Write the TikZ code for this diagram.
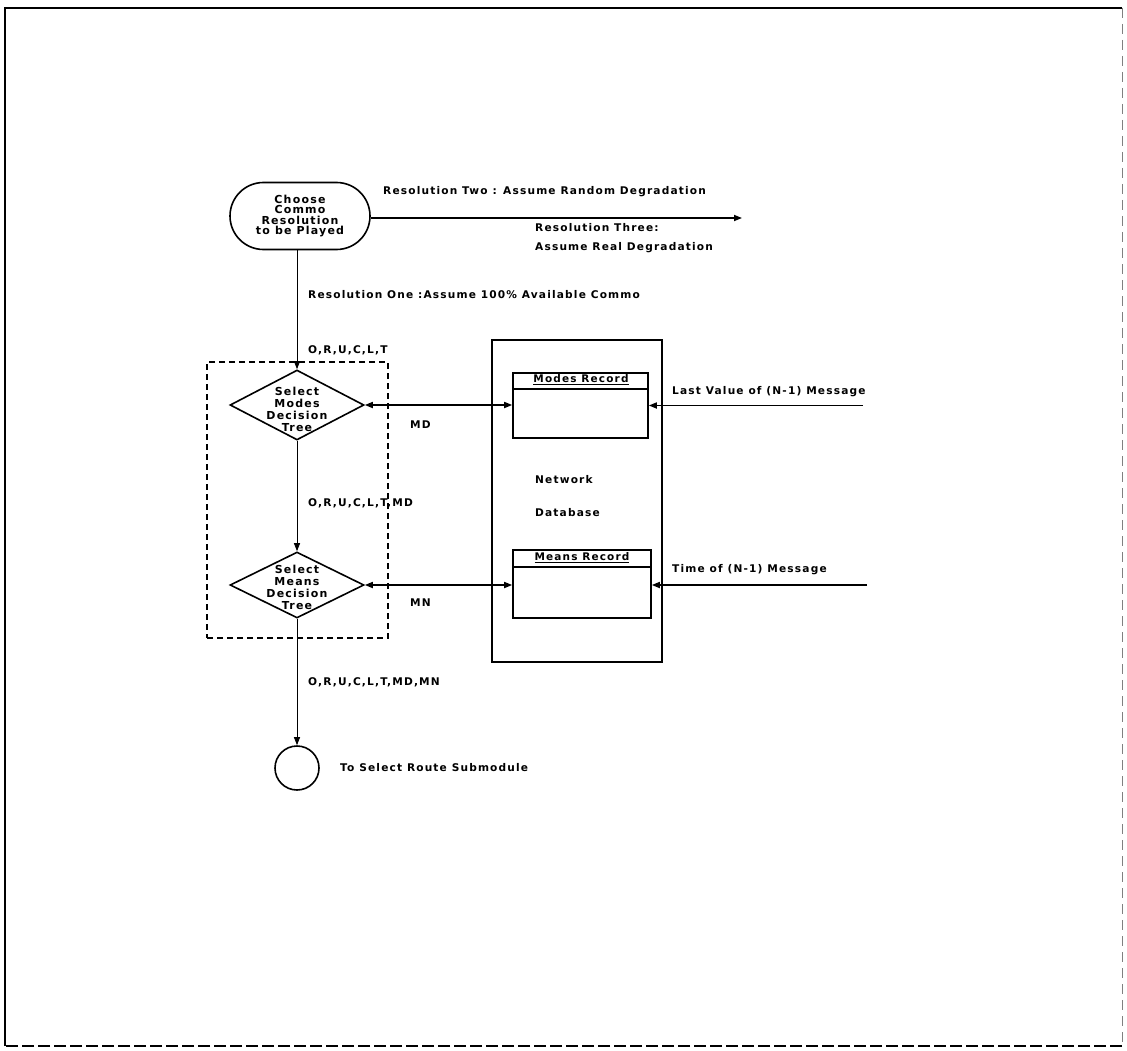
\documentclass[tikz,border=0pt]{standalone}
\usepackage{fontspec}
\setmainfont{DejaVu Sans}
\newfontfamily\lblfont[LetterSpace=11]{DejaVu Sans}
\usetikzlibrary{shapes.geometric,shapes.misc,arrows.meta}
\begin{document}
\begin{tikzpicture}[x=1pt,y=-1pt,
  lbl/.style={font=\lblfont\bfseries\fontsize{10.6}{12}\selectfont, inner sep=0pt, anchor=west},
  ctxt/.style={font=\lblfont\bfseries\fontsize{11}{12}\selectfont, inner sep=0pt, align=center},
  heavy/.style={line width=1.6pt},
  thinline/.style={line width=0.9pt},
  tip/.style={-{Triangle[length=8pt,width=6pt]}},
  dtip/.style={{Triangle[length=8pt,width=6pt]}-{Triangle[length=8pt,width=6pt]}},
  stadium/.style={draw, heavy, rounded rectangle, minimum width=140pt, minimum height=67pt, inner sep=0pt, font=\lblfont\bfseries\fontsize{11}{10.3}\selectfont, align=center},
  decision/.style={draw, heavy, diamond, minimum width=134pt, minimum height=70pt, inner sep=0pt},
  box/.style={draw, heavy, rectangle, inner sep=0pt},
  grpbox/.style={draw, line width=1.3pt, dash pattern=on 6pt off 4pt, rectangle, inner sep=0pt},
]
\useasboundingbox (0,0) rectangle (1127,1051);
% outer frame
\draw[heavy] (5,1046) -- (5,8) -- (1122,8);
\draw[line width=0.8pt, gray, dash pattern=on 10pt off 6pt] (1122,8) -- (1122,1046);
\draw[line width=1.3pt, dash pattern=on 12pt off 4pt] (1122,1046) -- (5,1046);

% start terminator
\node[stadium] (start) at (300,216) {Choose\\Commo\\Resolution\\to be Played};
\coordinate (r2end) at (742,218);
\draw[heavy,tip] (start.east |- r2end) -- (r2end);
\node[lbl] (r2lbl) at (383,192) {Resolution Two : Assume Random Degradation};
\node[lbl] (r3lbl) at (535,228) {Resolution Three:};
\node[lbl] (r3lbl2) at (535,248) {Assume Real Degradation};

% group box
\node[grpbox, minimum width=181pt, minimum height=276pt] (grp) at (297.5,500) {};

% decisions
\node[decision] (d1) at (297,405) {};
\node[ctxt] (d1t) at (297,409) {Select\\Modes\\Decision\\Tree};
\node[decision, minimum height=66pt] (d2) at (297,585) {};
\node[ctxt] (d2t) at (297,587) {Select\\Means\\Decision\\Tree};

\draw[thinline,tip] (start.south -| d1.north) -- (d1.north);
\node[lbl] (r1lbl) at (308,295) {Resolution One :Assume 100\% Available Commo};
\node[lbl] (in1) at (308,350) {O,R,U,C,L,T};

\draw[thinline,tip] (d1.south) -- (d2.north);
\node[lbl] (in2) at (308,503) {O,R,U,C,L,T,MD};

% end connector
\node[draw, heavy, circle, minimum size=44pt, inner sep=0pt] (end) at (297,768) {};
\draw[thinline,tip] (d2.south) -- (end.north);
\node[lbl] (in3) at (308,682) {O,R,U,C,L,T,MD,MN};
\node[lbl] (endlbl) at (340,768) {To Select Route Submodule};

% network database
\node[box, minimum width=170pt, minimum height=322pt] (db) at (577,501) {};
\node[lbl] (dbl1) at (535,480) {Network};
\node[lbl] (dbl2) at (535,513) {Database};

\node[box, minimum width=135pt, minimum height=65pt] (modes) at (580.5,405.5) {};
\draw[heavy] (modes.west |- 0,389) -- (modes.east |- 0,389);
\node[ctxt, font=\lblfont\bfseries\fontsize{10.5}{10}\selectfont] (modest) at (581,380) {\underline{Modes Record}};

\node[box, minimum width=138pt, minimum height=68pt] (means) at (582,584) {};
\draw[heavy] (means.west |- 0,567) -- (means.east |- 0,567);
\node[ctxt, font=\lblfont\bfseries\fontsize{10.5}{10}\selectfont] (meanst) at (582,558) {\underline{Means Record}};

% data flows
\draw[heavy,dtip] (d1.east) -- (modes.west |- d1.east);
\node[lbl] (mdlbl) at (410,425) {MD};
\draw[heavy,dtip] (d2.east) -- (means.west |- d2.east);
\node[lbl] (mnlbl) at (410,603) {MN};

\coordinate (lvsrc) at (863,405.5);
\draw[heavy,tip] (lvsrc) -- (modes.east);
\node[lbl] (lvlbl) at (672,392) {Last Value of (N-1) Message};
\coordinate (tmsrc) at (867,585);
\draw[heavy,tip] (tmsrc) -- (means.east |- tmsrc);
\node[lbl] (tmlbl) at (672,570) {Time of (N-1) Message};
\end{tikzpicture}
\end{document}
